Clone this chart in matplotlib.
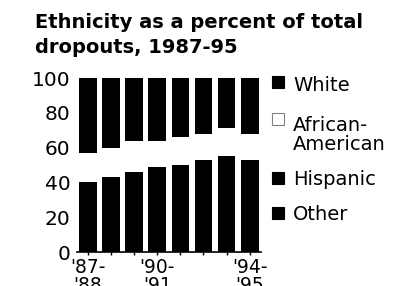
import numpy as np
import matplotlib.pyplot as plt
from matplotlib.patches import Rectangle

plt.rcParams['font.family'] = ['DejaVu Sans']

years = ["'87-\n'88", "'88-\n'89", "'89-\n'90", "'90-\n'91", "'91-\n'92", "'92-\n'93", "'93-\n'94", "'94-\n'95"]
other = [7, 7, 8, 8, 8, 9, 9, 9]
hispanic = [33, 36, 38, 41, 42, 44, 46, 44]
african_american = [17, 17, 18, 15, 16, 15, 16, 15]
white = [43, 40, 36, 36, 34, 32, 29, 32]

W, H = 396.0, 286.0
fig = plt.figure(figsize=(3.96, 2.86), dpi=100)
ax = fig.add_axes([76.5 / W, 1 - 252 / H, 184.7 / W, 174 / H])

x = np.arange(len(years))
w = 0.77
b = np.zeros(len(years))
ax.bar(x, other, w, bottom=b, color='black')
b += other
ax.bar(x, hispanic, w, bottom=b, color='black')
b += hispanic
ax.bar(x, african_american, w, bottom=b, color='white')
b += african_american
ax.bar(x, white, w, bottom=b, color='black')

ax.set_xlim(-0.5, len(years) - 0.5)
ax.set_ylim(0, 100)
ax.set_yticks([0, 20, 40, 60, 80, 100])
ax.tick_params(axis='y', length=0, pad=4.5, labelsize=14.5)
ax.set_xticks(x)
shown = [lab if i in (0, 3, 7) else '' for i, lab in enumerate(years)]
ax.set_xticklabels(shown, fontsize=13.5, linespacing=0.92)
ax.tick_params(axis='x', length=2.5, width=1, pad=2)
for s in ['top', 'right', 'left']:
    ax.spines[s].set_visible(False)
ax.spines['bottom'].set_linewidth(1.2)

# title, two lines
fig.text(35 / W, 1 - 28 / H, 'Ethnicity as a percent of total', fontsize=14,
         fontweight='bold', va='baseline', ha='left')
fig.text(35 / W, 1 - 53 / H, 'dropouts, 1987-95', fontsize=14,
         fontweight='bold', va='baseline', ha='left')

# legend drawn by hand: (label, colour, square bottom, baseline of last line)
legend_items = [('White', 'black', 88, 91), ('African-\nAmerican', 'white', 125, 150),
                ('Hispanic', 'black', 184, 185), ('Other', 'black', 219, 220)]
for label, col, sq, last in legend_items:
    fig.add_artist(Rectangle((272 / W, 1 - sq / H), 11.5 / W, 12 / H,
                             transform=fig.transFigure, facecolor=col,
                             edgecolor='black' if col == 'black' else 'gray', lw=0.8))
    fig.text(293 / W, 1 - last / H, label, fontsize=14, va='baseline', ha='left',
             linespacing=1.02)

fig.savefig('out.png', dpi=100)
